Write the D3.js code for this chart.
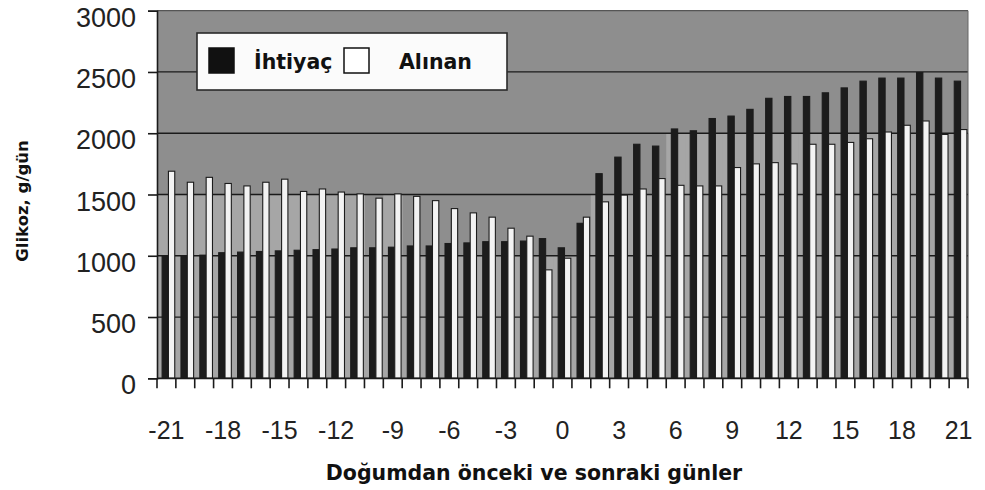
<!DOCTYPE html>
<html>
<head>
<meta charset="utf-8">
<script src="https://cdn.jsdelivr.net/npm/d3@7"></script>
<style>
  body { margin: 0; background: #fff; }
  svg { display: block; }
</style>
</head>
<body>
<svg id="chart"></svg>
<script>
const width = 985;
const height = 490;

// Data
const days = d3.range(-21, 22);
const seriesNames = ["İhtiyaç", "Alınan"];
const ihtiyac = [1000, 1000, 1005, 1025, 1030, 1035, 1040, 1045, 1050, 1055, 1065, 1065, 1070, 1080,
  1080, 1100, 1105, 1115, 1115, 1120, 1140, 1065, 1265, 1670, 1805, 1910, 1895, 2035,
  2020, 2120, 2140, 2195, 2285, 2300, 2300, 2330, 2370, 2425, 2450, 2450, 2495, 2450, 2425];
const alinan = [1690, 1600, 1640, 1590, 1570, 1600, 1625, 1525, 1545, 1520, 1505, 1470, 1505, 1485,
  1450, 1385, 1350, 1315, 1225, 1160, 885, 980, 1315, 1440, 1495, 1545, 1630, 1575,
  1570, 1570, 1720, 1750, 1760, 1750, 1910, 1910, 1925, 1955, 2010, 2065, 2100, 1990, 2030];
const yTicks = [0, 500, 1000, 1500, 2000, 2500, 3000];
const xTickLabels = days.filter(d => d % 3 === 0);

const plotLeft = 157, plotRight = 968, plotTop = 10.7, plotBottom = 378.3;

const svg = d3.select("#chart")
  .attr("width", width)
  .attr("height", height);

const x = d3.scaleBand()
  .domain(days)
  .range([plotLeft, plotRight])
  .paddingInner(0.33)
  .paddingOuter(0.165);

const xs = d3.scaleBand()
  .domain(seriesNames)
  .range([0, x.bandwidth()]);

const y = d3.scaleLinear()
  .domain([0, 3000])
  .range([plotBottom, plotTop]);

const rows = days.map((d, i) => ({ day: d, values: [ihtiyac[i], alinan[i]] }));

// plot background (darker above, lighter under the bars)
svg.append("rect")
  .attr("x", plotLeft).attr("y", plotTop)
  .attr("width", plotRight - plotLeft).attr("height", plotBottom - plotTop)
  .attr("fill", "#8e8e8e");

svg.append("g").selectAll("rect")
  .data(rows)
  .join("rect")
  .attr("x", d => x(d.day) - x.step() * x.paddingInner() / 2)
  .attr("width", x.step() + 0.5)
  .attr("y", d => y(Math.floor(d3.max(d.values) / 500) * 500))
  .attr("height", d => plotBottom - y(Math.floor(d3.max(d.values) / 500) * 500))
  .attr("fill", "#a6a6a6");

// gridlines
svg.append("g").selectAll("line")
  .data(yTicks.filter(t => t > 0))
  .join("line")
  .attr("x1", plotLeft).attr("x2", plotRight)
  .attr("y1", d => y(d)).attr("y2", d => y(d))
  .attr("stroke", d => d === 3000 ? "#555" : "#1a1a1a")
  .attr("stroke-width", 1.3);

svg.append("line")
  .attr("x1", plotRight).attr("x2", plotRight)
  .attr("y1", plotTop).attr("y2", plotBottom)
  .attr("stroke", "#666").attr("stroke-width", 1);

// bars (the scan shows them sitting a little right of the category centre)
const group = svg.append("g").selectAll("g")
  .data(rows)
  .join("g")
  .attr("transform", d => `translate(${x(d.day) + 2},0)`);

group.selectAll("rect")
  .data(d => d.values.map((v, k) => ({ key: seriesNames[k], value: v })))
  .join("rect")
  .attr("x", d => xs(d.key))
  .attr("width", xs.bandwidth())
  .attr("y", d => y(d.value))
  .attr("height", d => plotBottom - y(d.value))
  .attr("fill", d => d.key === seriesNames[0] ? "#1c1c1c" : "#f3f3f3")
  .attr("stroke", "#1c1c1c")
  .attr("stroke-width", 1.1);

// y axis
const yAxis = svg.append("g")
  .attr("transform", `translate(${plotLeft},0)`)
  .call(d3.axisLeft(y).tickValues(yTicks).tickFormat(d3.format("d")).tickSize(9).tickPadding(12));
yAxis.select(".domain").attr("stroke", "#1a1a1a").attr("stroke-width", 1.6);
yAxis.selectAll(".tick line").attr("stroke", "#1a1a1a").attr("stroke-width", 1.6);
yAxis.selectAll("text")
  .attr("font-family", "Liberation Sans, Arial, sans-serif")
  .attr("font-size", 27)
  .attr("fill", "#222")
  .attr("dy", "0.58em");

// x axis
const xAxis = svg.append("g")
  .attr("transform", `translate(0,${plotBottom})`)
  .call(d3.axisBottom(x).tickValues(xTickLabels).tickSize(0).tickPadding(43));
xAxis.select(".domain").remove();
xAxis.selectAll("text")
  .attr("font-family", "Liberation Sans, Arial, sans-serif")
  .attr("font-size", 25)
  .attr("fill", "#222");

svg.append("line")
  .attr("x1", plotLeft).attr("x2", plotRight)
  .attr("y1", plotBottom).attr("y2", plotBottom)
  .attr("stroke", "#1a1a1a").attr("stroke-width", 1.8);

// ticks at category boundaries
svg.append("g").selectAll("line")
  .data(d3.range(days.length + 1))
  .join("line")
  .attr("x1", i => x.range()[0] + i * x.step())
  .attr("x2", i => x.range()[0] + i * x.step())
  .attr("y1", plotBottom).attr("y2", plotBottom + 10)
  .attr("stroke", "#1a1a1a").attr("stroke-width", 1.6);

// axis titles
svg.append("text")
  .attr("x", 534).attr("y", 480)
  .attr("text-anchor", "middle")
  .attr("font-family", "DejaVu Sans, sans-serif")
  .attr("font-weight", "bold")
  .attr("font-size", 20.5)
  .attr("fill", "#111")
  .text("Doğumdan önceki ve sonraki günler");

svg.append("text")
  .attr("transform", "translate(28,201) rotate(-90)")
  .attr("text-anchor", "middle")
  .attr("font-family", "DejaVu Sans, sans-serif")
  .attr("font-weight", "bold")
  .attr("font-size", 16.5)
  .attr("fill", "#111")
  .text("Glikoz, g/gün");

// legend
const legend = svg.append("g");
legend.append("rect")
  .attr("x", 197).attr("y", 33)
  .attr("width", 310).attr("height", 57)
  .attr("fill", "#fbfbfb")
  .attr("stroke", "#2a2a2a").attr("stroke-width", 1.6);

const legendX = [209, 344];
const legendTextX = [254, 399];
const item = legend.selectAll("g")
  .data(seriesNames)
  .join("g");
item.append("rect")
  .attr("x", (d, i) => legendX[i]).attr("y", 48)
  .attr("width", 25).attr("height", 25)
  .attr("fill", (d, i) => i === 0 ? "#111" : "#fff")
  .attr("stroke", "#111").attr("stroke-width", 1.5);
item.append("text")
  .attr("x", (d, i) => legendTextX[i]).attr("y", 69)
  .attr("font-family", "DejaVu Sans, sans-serif")
  .attr("font-weight", "bold")
  .attr("font-size", 20.5)
  .attr("fill", "#111")
  .text(d => d);
</script>
</body>
</html>
